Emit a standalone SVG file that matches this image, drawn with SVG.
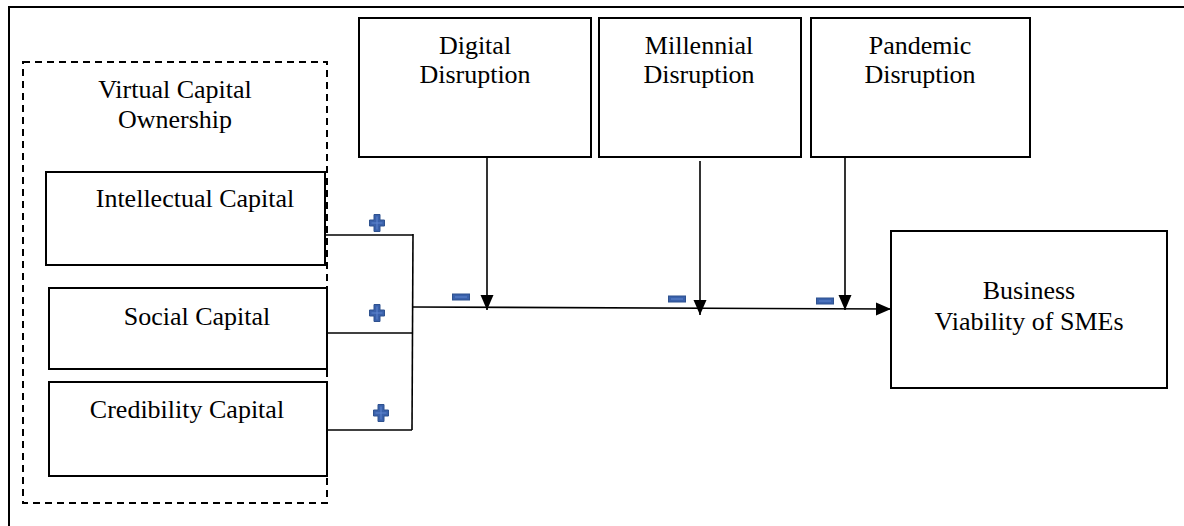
<svg xmlns="http://www.w3.org/2000/svg" width="1184" height="526" viewBox="0 0 1184 526">
  <defs>
    <style>
      .box { fill: #ffffff; stroke: #000000; stroke-width: 2; }
      .dash { fill: none; stroke: #000000; stroke-width: 2; stroke-dasharray: 7 5; }
      .ln { fill: none; stroke: #000000; stroke-width: 1.6; }
      .txt { font-family: 'Liberation Serif', 'DejaVu Serif', 'Times New Roman', serif; font-size: 26px; fill: #000000; text-anchor: middle; }
      .sign { fill: #3a61ab; stroke: #2f528f; stroke-width: 1; }
      .signline { stroke: #5f86cf; stroke-width: 1; fill: none; }
    </style>
    <marker id="arr" markerUnits="userSpaceOnUse" markerWidth="16" markerHeight="14" refX="15" refY="6.5" orient="auto">
      <path d="M0 0 L15 6.5 L0 13 Z" fill="#000000"/>
    </marker>
    <g id="plus">
      <path class="sign" d="M-3 -8.5 H3 V-3 H7.5 V3 H3 V8.5 H-3 V3 H-7.5 V-3 H-3 Z"/>
      <path class="signline" d="M0 -6.5 V6.5 M-5.5 0 H5.5"/>
    </g>
    <g id="minus">
      <rect class="sign" x="-8.5" y="-3" width="17" height="6"/>
      <path class="signline" d="M-6 0 H6"/>
    </g>
  </defs>

  <g id="frame">
    <path d="M9 526 V7 H1184" fill="none" stroke="#000000" stroke-width="2"/>
  </g>

  <g id="virtual-capital-ownership">
    <rect class="dash" x="23" y="62" width="304" height="441"/>
    <text class="txt" x="175" y="98" font-family="Liberation Serif, DejaVu Serif, serif">Virtual Capital</text>
    <text class="txt" x="175" y="128" font-family="Liberation Serif, DejaVu Serif, serif">Ownership</text>
  </g>

  <g id="intellectual-capital">
    <rect class="box" x="46" y="172" width="279" height="93"/>
    <text class="txt" x="195" y="207">Intellectual Capital</text>
  </g>

  <g id="social-capital">
    <rect class="box" x="49" y="288" width="278" height="81"/>
    <text class="txt" x="197" y="325">Social Capital</text>
  </g>

  <g id="credibility-capital">
    <rect class="box" x="49" y="382" width="278" height="94"/>
    <text class="txt" x="187" y="418">Credibility Capital</text>
  </g>

  <g id="digital-disruption">
    <rect class="box" x="359" y="18" width="232" height="139"/>
    <text class="txt" x="475" y="54">Digital</text>
    <text class="txt" x="475" y="83">Disruption</text>
  </g>

  <g id="millennial-disruption">
    <rect class="box" x="599" y="18" width="202" height="139"/>
    <text class="txt" x="699" y="54">Millennial</text>
    <text class="txt" x="699" y="83">Disruption</text>
  </g>

  <g id="pandemic-disruption">
    <rect class="box" x="811" y="18" width="219" height="139"/>
    <text class="txt" x="920" y="54">Pandemic</text>
    <text class="txt" x="920" y="83">Disruption</text>
  </g>

  <g id="business-viability">
    <rect class="box" x="891" y="231" width="276" height="157"/>
    <text class="txt" x="1029" y="299">Business</text>
    <text class="txt" x="1029" y="330">Viability of SMEs</text>
  </g>

  <g id="connectors">
    <path class="ln" d="M325 235 H413"/>
    <path class="ln" d="M327 333 H412"/>
    <path class="ln" d="M327 430 H412"/>
    <path class="ln" d="M413 234 L412 430"/>
    <path class="ln" d="M412 307 L891 309" marker-end="url(#arr)"/>
    <path class="ln" d="M487 157 V310" marker-end="url(#arr)"/>
    <path class="ln" d="M700 161 V315" marker-end="url(#arr)"/>
    <path class="ln" d="M845 157 V310" marker-end="url(#arr)"/>
  </g>

  <g id="signs">
    <use href="#plus" x="377" y="223"/>
    <use href="#plus" x="377" y="313"/>
    <use href="#plus" x="381" y="413"/>
    <use href="#minus" x="461" y="297"/>
    <use href="#minus" x="677" y="299"/>
    <use href="#minus" x="825" y="301"/>
  </g>
</svg>
